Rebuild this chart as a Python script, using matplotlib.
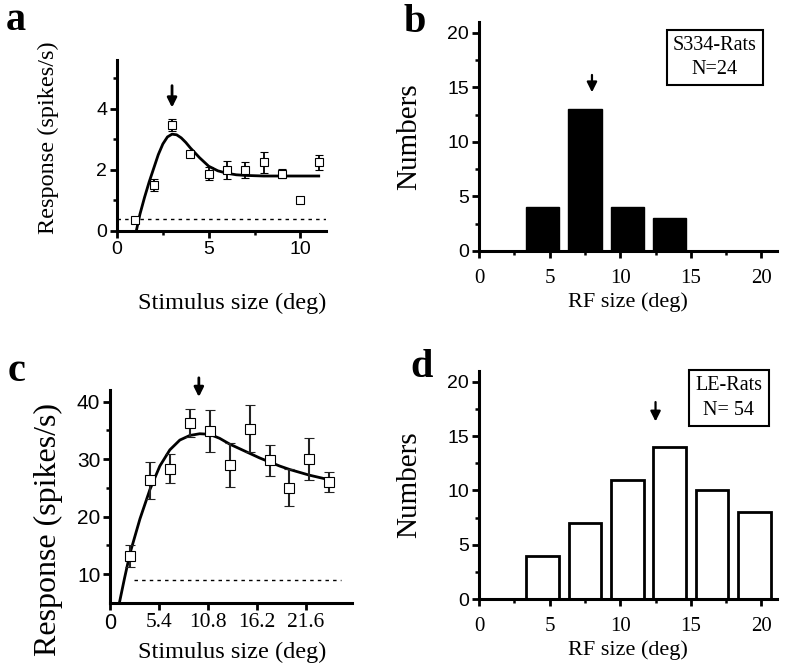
import numpy as np
import matplotlib.pyplot as plt
from matplotlib.ticker import FixedLocator

SERIF = 'Liberation Serif'
SANS = 'Liberation Sans'

# panel a : S334 example cell
a_x = [1, 2, 3, 4, 5, 6, 7, 8, 9, 10, 11]
a_y = [0.35, 1.5, 3.48, 2.52, 1.88, 2.0, 2.0, 2.25, 1.88, 1.0, 2.25]
a_err = [0.05, 0.2, 0.2, 0.07, 0.2, 0.3, 0.25, 0.35, 0.15, 0.1, 0.25]
a_fit_x = [1.05, 1.25, 1.5, 1.75, 2.0, 2.25, 2.5, 2.75, 3.0, 3.25, 3.5, 3.75, 4.0,
           4.5, 5.0, 5.5, 6.0, 6.5, 7.0, 7.5, 8.0, 9.0, 10.0, 11.0]
a_fit_y = [0.0, 0.55, 1.1, 1.6, 2.05, 2.5, 2.85, 3.08, 3.17, 3.15, 3.05, 2.9, 2.72,
           2.4, 2.12, 1.97, 1.89, 1.84, 1.82, 1.81, 1.8, 1.8, 1.8, 1.8]
a_base = 0.38

# panel c : LE example cell
c_x = [2.2, 4.4, 6.6, 8.8, 11.0, 13.2, 15.4, 17.6, 19.8, 22.0, 24.2]
c_y = [13.1, 26.3, 28.3, 36.3, 34.9, 29.0, 35.3, 29.8, 25.0, 30.0, 26.0]
c_err = [1.9, 3.2, 2.5, 2.4, 3.6, 3.8, 4.1, 2.7, 3.2, 3.6, 1.7]
c_fit_x = [1.03, 1.6, 2.2, 3.3, 4.4, 5.5, 6.6, 7.7, 8.8, 9.9, 11.0, 12.1, 13.2,
           14.3, 15.4, 16.5, 17.6, 18.7, 19.8, 20.9, 22.0, 23.1, 24.2]
c_fit_y = [5.0, 9.3, 13.6, 19.6, 24.7, 28.8, 31.6, 33.3, 34.1, 34.4, 34.3, 33.6, 32.6,
           31.8, 31.0, 30.2, 29.5, 28.8, 28.2, 27.7, 27.2, 26.8, 26.4]
c_base = 9.0

# panels b, d : RF size histograms
rf_bins = [4.5, 7.5, 10.5, 13.5, 16.5, 19.5]
s334_counts = [4, 13, 4, 3, 0, 0]
le_counts = [4, 7, 11, 14, 10, 8]


def style_axes(ax):
    for s in ['top', 'right']:
        ax.spines[s].set_visible(False)
    for s in ['left', 'bottom']:
        ax.spines[s].set_linewidth(2.2)
    ax.tick_params(which='major', direction='out', length=5, width=2, pad=2)
    ax.tick_params(which='minor', direction='out', length=3, width=1.8)


def set_tick_fonts(ax, xfont, yfont, xsize, ysize):
    for lab in ax.get_xticklabels():
        lab.set_fontfamily(xfont)
        lab.set_fontsize(xsize)
    for lab in ax.get_yticklabels():
        lab.set_fontfamily(yfont)
        lab.set_fontsize(ysize)


fig = plt.figure(figsize=(7.87, 6.67), dpi=100)

# ---- a
ax = fig.add_axes([0.1487, 0.6537, 0.2656, 0.2564])
style_axes(ax)
ax.set_xlim(0, 11.4)
ax.set_ylim(0, 5.6)
ax.axhline(a_base, color='k', lw=1, ls=(0, (2.5, 3)))
ax.plot(a_fit_x, a_fit_y, color='k', lw=2)
ax.errorbar(a_x, a_y, yerr=a_err, fmt='s', mfc='white', mec='k', mew=0.8, ms=6,
            ecolor='k', elinewidth=1.3, capsize=3, capthick=1.3)
ax.set_xticks([0, 5, 10])
ax.set_yticks([0, 2, 4])
ax.xaxis.set_minor_locator(FixedLocator([2.5, 7.5]))
ax.yaxis.set_minor_locator(FixedLocator([1, 3, 5]))
set_tick_fonts(ax, SANS, SANS, 14, 14)
ax.annotate('', xy=(3, 3.95), xytext=(3, 4.85),
            arrowprops=dict(arrowstyle='-|>', color='k', lw=2, mutation_scale=14))
fig.text(0.061, 1 - 138 / 667, 'Response (spikes/s)', rotation=90, family=SERIF,
         fontsize=17.5, ha='center', va='center')
fig.text(232 / 787, 1 - 303 / 667, 'Stimulus size (deg)', family=SERIF,
         fontsize=17.5, ha='center', va='center')
fig.text(6 / 787, 1 - 30 / 667, 'a', family=SERIF, weight='bold', fontsize=29)

# ---- b
ax = fig.add_axes([0.6086, 0.6237, 0.3787, 0.3433])
style_axes(ax)
ax.tick_params(axis='x', which='major', pad=8)
ax.bar(rf_bins, s334_counts, width=2.35, color='k', edgecolor='k', lw=1)
ax.set_xlim(0, 21.1)
ax.set_ylim(0, 21)
ax.set_xticks([0, 5, 10, 15, 20])
ax.set_yticks([0, 5, 10, 15, 20])
ax.xaxis.set_minor_locator(FixedLocator([2.5, 7.5, 12.5, 17.5]))
ax.yaxis.set_minor_locator(FixedLocator([2.5, 7.5, 12.5, 17.5]))
set_tick_fonts(ax, SERIF, SANS, 15, 14)
ax.annotate('', xy=(8, 14.3), xytext=(8, 16.4),
            arrowprops=dict(arrowstyle='-|>', color='k', lw=1.6, mutation_scale=15))
ax.set_ylabel('Numbers', family=SERIF, fontsize=21, labelpad=18)
ax.set_xlabel('RF size (deg)', family=SERIF, fontsize=16, labelpad=3)
ax.text(16.7, 17.75, 'S334-Rats\nN=24', family=SERIF, fontsize=14.5,
        ha='center', va='center', linespacing=1.4,
        bbox=dict(boxstyle='square,pad=0.3', fc='white', ec='k', lw=1.5))
fig.text(404 / 787, 1 - 32 / 667, 'b', family=SERIF, weight='bold', fontsize=29)

# ---- c
ax = fig.add_axes([0.1398, 0.0960, 0.3075, 0.3193])
style_axes(ax)
ax.set_xlim(0, 26.7)
ax.set_ylim(5, 42)
ax.plot([2.6, 25.5], [c_base, c_base], color='k', lw=1, ls=(0, (2.5, 3)))
ax.plot(c_fit_x, c_fit_y, color='k', lw=2)
ax.errorbar(c_x, c_y, yerr=c_err, fmt='s', mfc='white', mec='k', mew=0.8, ms=6.5,
            ecolor='#222222', elinewidth=1.5, capsize=3.5, capthick=1.5)
ax.set_xticks([0, 5.4, 10.8, 16.2, 21.6])
ax.set_xticklabels(['0', '5.4', '10.8', '16.2', '21.6'])
ax.set_yticks([10, 20, 30, 40])
ax.yaxis.set_minor_locator(FixedLocator([15, 25, 35]))
set_tick_fonts(ax, SERIF, SANS, 15.5, 15)
ax.get_xticklabels()[0].set_fontfamily(SANS)
ax.annotate('', xy=(9.8, 40.3), xytext=(9.8, 44.6), annotation_clip=False,
            arrowprops=dict(arrowstyle='-|>', color='k', lw=2, mutation_scale=14))
fig.text(0.061, 1 - 529 / 667, 'Response (spikes/s)', rotation=90, family=SERIF,
         fontsize=23, ha='center', va='center')
fig.text(232 / 787, 1 - 652 / 667, 'Stimulus size (deg)', family=SERIF,
         fontsize=17.5, ha='center', va='center')
fig.text(8 / 787, 1 - 381 / 667, 'c', family=SERIF, weight='bold', fontsize=29)

# ---- d
ax = fig.add_axes([0.6086, 0.1019, 0.3787, 0.3418])
style_axes(ax)
ax.tick_params(axis='x', which='major', pad=8)
ax.bar(rf_bins, le_counts, width=2.3, color='white', edgecolor='k', lw=2)
ax.set_xlim(0, 21.1)
ax.set_ylim(0, 21)
ax.set_xticks([0, 5, 10, 15, 20])
ax.set_yticks([0, 5, 10, 15, 20])
ax.xaxis.set_minor_locator(FixedLocator([2.5, 7.5, 12.5, 17.5]))
ax.yaxis.set_minor_locator(FixedLocator([2.5, 7.5, 12.5, 17.5]))
set_tick_fonts(ax, SERIF, SANS, 15, 14)
ax.annotate('', xy=(12.5, 16.1), xytext=(12.5, 18.4),
            arrowprops=dict(arrowstyle='-|>', color='k', lw=1.6, mutation_scale=15))
ax.set_ylabel('Numbers', family=SERIF, fontsize=21, labelpad=18)
ax.set_xlabel('RF size (deg)', family=SERIF, fontsize=16, labelpad=3)
ax.text(17.7, 18.5, 'LE-Rats\nN= 54', family=SERIF, fontsize=14.5,
        ha='center', va='center', linespacing=1.4,
        bbox=dict(boxstyle='square,pad=0.3', fc='white', ec='k', lw=1.5))
fig.text(410 / 787, 1 - 377 / 667, 'd', family=SERIF, weight='bold', fontsize=29)

fig.savefig('out.png', dpi=100)
